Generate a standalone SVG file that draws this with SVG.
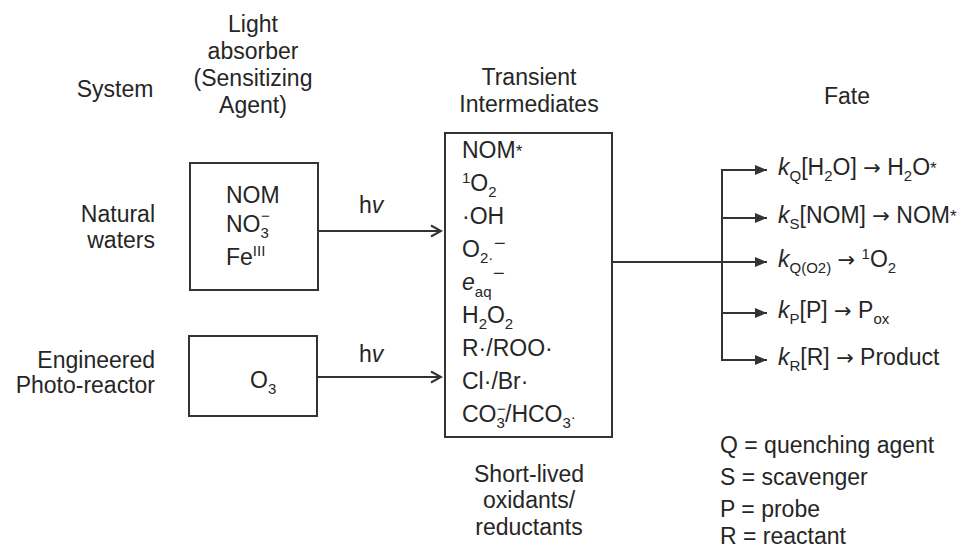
<svg xmlns="http://www.w3.org/2000/svg" width="971" height="549" viewBox="0 0 971 549">
<style>
text{font-family:"Liberation Sans",Arial,sans-serif;font-size:23px;fill:#262626}
.c{text-anchor:middle}
.r{text-anchor:end}
.s{font-size:15px}
.i{font-style:italic}
.a{font-family:"DejaVu Sans",sans-serif;font-size:21px}
.box{fill:#fff;stroke:#333;stroke-width:2}
.ln{fill:none;stroke:#333;stroke-width:2}
</style>
<defs>
<marker id="open" markerWidth="14" markerHeight="14" refX="12" refY="7" orient="auto" markerUnits="userSpaceOnUse">
<path d="M2,1.5 L12,7 L2,12.5" fill="none" stroke="#333" stroke-width="2"/>
</marker>
<marker id="solid" markerWidth="14" markerHeight="12" refX="12" refY="5" orient="auto" markerUnits="userSpaceOnUse">
<path d="M0,0 L12,5 L0,10 z" fill="#333"/>
</marker>
</defs>
<rect width="971" height="549" fill="#fff"/>

<g id="headers">
<text class="c" x="115" y="97">System</text>
<text class="c" x="253" y="32">Light</text>
<text class="c" x="253" y="59">absorber</text>
<text class="c" x="253" y="86">(Sensitizing</text>
<text class="c" x="253" y="113">Agent)</text>
<text class="c" x="529" y="85">Transient</text>
<text class="c" x="529" y="112">Intermediates</text>
<text class="c" x="847" y="104">Fate</text>
</g>

<g id="systems">
<text class="r" x="155" y="222">Natural</text>
<text class="r" x="155" y="248">waters</text>
<text class="r" x="155" y="368">Engineered</text>
<text class="r" x="155" y="393">Photo-reactor</text>
</g>

<g id="absorber-natural">
<rect class="box" x="190" y="163" width="128" height="127"/>
<text x="226" y="203">NOM</text>
<text x="226" y="232">NO<tspan class="s" dy="6">3</tspan><tspan class="s" x="261" dy="-17">−</tspan></text>
<text x="226" y="265">Fe<tspan class="s" dy="-9">III</tspan></text>
</g>

<g id="absorber-engineered">
<rect class="box" x="189" y="336" width="128" height="80"/>
<text x="250" y="388">O<tspan class="s" dy="6">3</tspan></text>
</g>

<g id="transients">
<rect class="box" x="445" y="133" width="167" height="304"/>
<text x="462" y="158">NOM<tspan font-size="17" dy="-1">*</tspan></text>
<text x="462" y="191"><tspan class="s" dy="-8">1</tspan><tspan dy="8">O</tspan><tspan class="s" dy="6">2</tspan></text>
<text x="462" y="224">·OH</text>
<text x="462" y="257">O<tspan class="s" dy="6">2·</tspan><tspan font-size="20" x="494" dy="-13">−</tspan></text>
<text x="462" y="290"><tspan class="i">e</tspan><tspan class="s" dy="7">aq</tspan><tspan font-size="20" x="493" dy="-17">−</tspan></text>
<text x="462" y="323">H<tspan class="s" dy="6">2</tspan><tspan dy="-6">O</tspan><tspan class="s" dy="6">2</tspan></text>
<text x="462" y="356">R·/ROO·</text>
<text x="462" y="389">Cl·/Br·</text>
<text x="462" y="422">CO<tspan class="s" dy="6">3</tspan><tspan class="s" x="497" dy="-14">−</tspan><tspan x="505" dy="8">/HCO</tspan><tspan class="s" dy="6">3</tspan><tspan class="s" dy="-6">·</tspan></text>
<text class="c" x="529" y="482">Short-lived</text>
<text class="c" x="529" y="508">oxidants/</text>
<text class="c" x="529" y="535">reductants</text>
</g>

<g id="fates">
<text x="778" y="175"><tspan class="i">k</tspan><tspan class="s" dy="6">Q</tspan><tspan dy="-6">[H</tspan><tspan class="s" dy="6">2</tspan><tspan dy="-6">O] </tspan><tspan class="a">→</tspan><tspan> H</tspan><tspan class="s" dy="6">2</tspan><tspan dy="-6">O</tspan><tspan font-size="17" dy="-1">*</tspan></text>
<text x="778" y="223"><tspan class="i">k</tspan><tspan class="s" dy="6">S</tspan><tspan dy="-6">[NOM] </tspan><tspan class="a">→</tspan><tspan> NOM</tspan><tspan font-size="17" dy="-1">*</tspan></text>
<text x="778" y="267"><tspan class="i">k</tspan><tspan class="s" dy="6">Q(O2)</tspan><tspan dy="-6"> </tspan><tspan class="a">→</tspan><tspan> </tspan><tspan class="s" dy="-8">1</tspan><tspan dy="8">O</tspan><tspan class="s" dy="6">2</tspan></text>
<text x="778" y="318"><tspan class="i">k</tspan><tspan class="s" dy="6">P</tspan><tspan dy="-6">[P] </tspan><tspan class="a">→</tspan><tspan> P</tspan><tspan class="s" dy="6">ox</tspan></text>
<text x="778" y="365"><tspan class="i">k</tspan><tspan class="s" dy="6">R</tspan><tspan dy="-6">[R] </tspan><tspan class="a">→</tspan><tspan> Product</tspan></text>
</g>

<g id="legend">
<text x="720" y="453">Q = quenching agent</text>
<text x="720" y="485">S = scavenger</text>
<text x="720" y="517">P = probe</text>
<text x="720" y="544">R = reactant</text>
</g>

<g id="connectors">
<line class="ln" x1="318" y1="231" x2="441" y2="231" marker-end="url(#open)"/>
<text x="359" y="213">h<tspan class="i">v</tspan></text>
<line class="ln" x1="317" y1="377" x2="441" y2="377" marker-end="url(#open)"/>
<text x="359" y="362">h<tspan class="i">v</tspan></text>
<line class="ln" x1="612" y1="262" x2="767" y2="262" marker-end="url(#solid)"/>
<line class="ln" x1="722" y1="169" x2="722" y2="361"/>
<line class="ln" x1="721" y1="170" x2="767" y2="170" marker-end="url(#solid)"/>
<line class="ln" x1="722" y1="218" x2="767" y2="218" marker-end="url(#solid)"/>
<line class="ln" x1="722" y1="313" x2="767" y2="313" marker-end="url(#solid)"/>
<line class="ln" x1="721" y1="360" x2="767" y2="360" marker-end="url(#solid)"/>
</g>
</svg>
